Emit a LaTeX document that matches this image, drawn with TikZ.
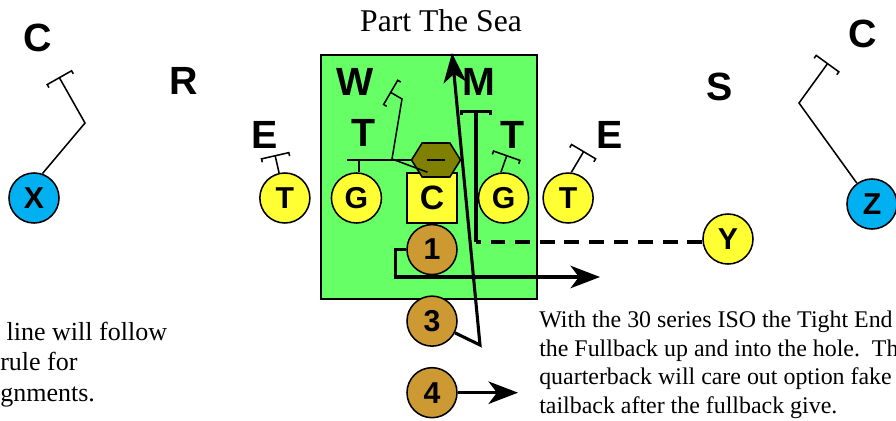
\documentclass[tikz,border=0pt]{standalone}
\usepackage{fontspec}
\setmainfont{Liberation Serif}
\setsansfont{Liberation Sans}
\usetikzlibrary{positioning,arrows.meta,shapes.symbols}

\definecolor{fieldgreen}{RGB}{102,255,102}
\definecolor{linemanfill}{RGB}{255,255,51}
\definecolor{backfill}{RGB}{204,153,51}
\definecolor{widefill}{RGB}{0,176,240}
\definecolor{nosefill}{RGB}{128,128,0}

\tikzset{
  player/.style={circle,draw,line width=1.1pt,minimum size=1.25cm,inner sep=0pt,
    font=\sffamily\bfseries\fontsize{21.5}{21.5}\selectfont},
  lineman/.style={player,fill=linemanfill},
  snapper/.style={lineman,rectangle,font=\sffamily\bfseries\fontsize{24}{24}\selectfont},
  back/.style={player,fill=backfill},
  wideout/.style={player,fill=widefill},
  defender/.style={inner sep=0pt,font=\sffamily\bfseries\fontsize{28}{28}\selectfont},
  block/.style={line width=1.1pt,-{Bracket[width=21pt,length=2.5pt]}},
  route/.style={line width=2.2pt,-{Stealth[length=21pt,width=16pt,inset=6pt]}},
  note/.style={align=left,inner sep=0pt,anchor=north west}
}

\begin{document}
\begin{tikzpicture}[x=0.025cm,y=-0.025cm]
\useasboundingbox (0,0) rectangle (896,421);

% the box
\draw[fill=fieldgreen,line width=1.1pt] (321,55) rectangle (537,299);
\node[anchor=base,font=\fontsize{22.5}{22.5}\selectfont] (title) at (441,31) {Part The Sea};

% offense
\node[snapper] (C) at (432,198) {C};
\node[lineman] (Gl) [left=0.6cm of C] {G};
\node[lineman] (Tl) [left=0.5cm of Gl] {T};
\node[lineman] (Gr) [right=0.5cm of C] {G};
\node[lineman] (Tr) [right=0.325cm of Gr] {T};
\node[back] (n1) [below=0cm of C] {1};
\node[back] (n3) [below=0.5cm of n1] {3};
\node[back] (n4) [below=0.5cm of n3] {4};
\node[lineman] (Y) at (728,239) {Y};
\node[wideout] (X) at (34,198) {X};
\node[wideout] (Z) at (872,204) {Z};

% defense
\node[signal,signal to=east and west,signal pointer angle=116,draw,fill=nosefill,
  line width=1.1pt,minimum width=1.225cm,minimum height=0.85cm,inner sep=0pt]
  (nose) at (436,160) {\rule{0.45cm}{0.05cm}};
\node[defender] (cl) at (38,38) {C};
\node[defender] (R) at (184,81) {R};
\node[defender] (El) at (265,135) {E};
\node[defender] (W) at (355,82) {W};
\node[defender] (tl) at (364,133) {T};
\node[defender] (M) at (479,82) {M};
\node[defender] (tr) at (513,135) {T};
\node[defender] (Er) at (610,135) {E};
\node[defender] (S) at (720,87) {S};
\node[defender] (cr) at (863,34) {C};

% block ends
\coordinate (xblk) at (59,77);
\coordinate (zblk) at (828,63);
\coordinate (tlblk) at (275,155);
\coordinate (cblk) at (390,92);
\coordinate (grblk) at (507,155);
\coordinate (trblk) at (584,151);
\coordinate (mturn) at (476,242);
\coordinate (mblk) at (476,110);
\coordinate (gcut) at (347,160);

% blocks
\draw[block] (X.71) -- (85,123) -- (xblk);
\draw[block] (Z.126) -- (799,103) -- (zblk);
\draw[block] (Tl.103) -- (tlblk);
\draw[line width=1.1pt] (Gl.84) -- (Gl.84 |- nose.west);
\draw[line width=1.1pt] (nose.west) -- (gcut);
\draw[block] (C.100) -- (392,159) -- (402,99) -- (cblk);
\draw[block] (Gr.96) -- (grblk);
\draw[block] (Tr.83) -- (trblk);
\draw[line width=2.2pt,dash pattern=on 10.5pt off 7pt] (Y.west |- mturn) -- (mturn);
\draw[line width=2.2pt,-{Bracket[width=23pt,length=2.5pt]}] (mturn) -- (mblk);

% backs
\coordinate (r1) at (600,277);
\coordinate (r3) at (452,53);
\coordinate (r4) at (518,393);
\draw[route] (n1.west) -- ++(-11,0) |- (r1);
\draw[route] (n3.-27) -- (480,345) -- (r3);
\draw[route] (n4.east) -- (n4.east -| r4);

% notes
\node[note,font=\fontsize{18.5}{21.5}\selectfont] (lnote) at (0,322)
  {\hspace{4.5pt}line will follow\\rule for\\gnments.};
\node[note,font=\fontsize{17}{20.2}\selectfont] (rnote) at (539,311)
  {With the 30 series ISO the Tight End\\the Fullback up and into the hole.\ \ Th\\quarterback will care out option fake\\tailback after the fullback give.};
\end{tikzpicture}
\end{document}
